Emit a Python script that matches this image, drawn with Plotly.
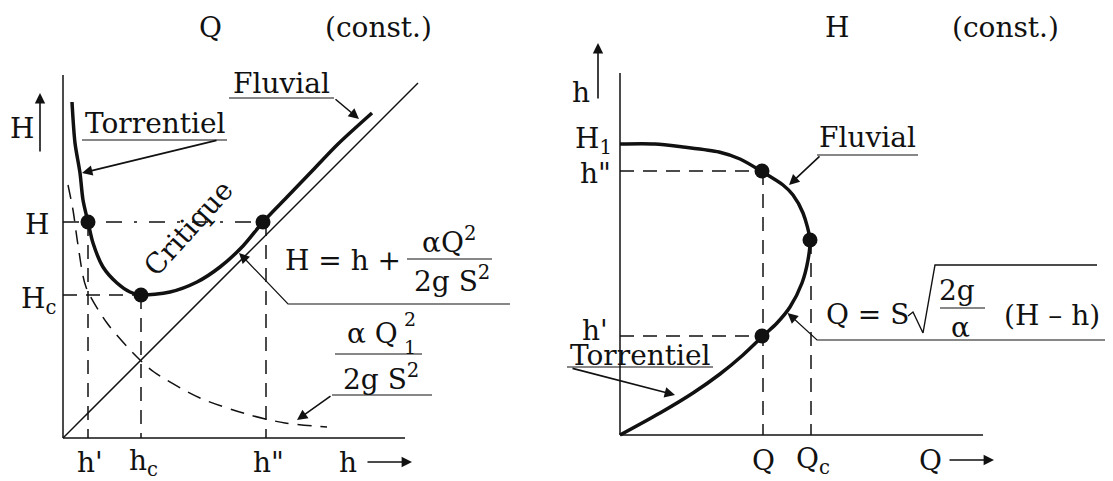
import plotly.graph_objects as go

# left panel, Q constant: head H against depth h
h_curve = [0.09, 0.12, 0.17, 0.20, 0.25, 0.30, 0.40, 0.54, 0.67, 0.78, 1.07, 1.34, 1.57, 1.80, 2.00, 2.25, 2.50, 2.75, 3.09]
H_curve = [3.36, 2.95, 2.65, 2.38, 2.16, 1.95, 1.71, 1.55, 1.46, 1.43, 1.46, 1.56, 1.71, 1.92, 2.16, 2.42, 2.68, 2.94, 3.25]
# velocity head alone (dashed)
h_kin = [0.05, 0.10, 0.15, 0.23, 0.44, 0.74, 0.91, 1.37, 1.87, 2.22, 2.64]
H_kin = [2.53, 2.28, 1.93, 1.51, 1.15, 0.81, 0.66, 0.40, 0.23, 0.15, 0.11]
diag = [0, 3.55]
h_torr, h_crit, h_fluv = 0.25, 0.78, 2.00
H_level, H_crit = 2.16, 1.43
h_axis_end, H_axis_end = 3.42, 3.63

# right panel, H constant: depth h against discharge Q
Q_curve = [0, 0.35, 0.63, 0.99, 1.20, 1.41, 1.63, 1.73, 1.83, 1.90, 1.88, 1.82, 1.70, 1.57, 1.43, 1.23, 1.00, 0.73, 0.40, 0]
h_curve2 = [2.91, 2.91, 2.88, 2.83, 2.76, 2.64, 2.50, 2.40, 2.22, 1.95, 1.75, 1.52, 1.28, 1.12, 0.99, 0.80, 0.61, 0.42, 0.22, 0]
Q_op, Q_crit = 1.42, 1.90
h2_fluv, h2_crit, h2_torr = 2.64, 1.95, 0.99
Q_axis_end, h2_axis_end = 3.63, 3.62

INK = "#111111"
FONT = "DejaVu Serif"
FS = 28
DASH = "14px,9px"

fig = go.Figure()


def line(xs, ys, panel, width=1.5, dash=None, shape="linear"):
    xa, ya = ("x", "y") if panel == 1 else ("x2", "y2")
    fig.add_trace(go.Scatter(x=xs, y=ys, mode="lines", xaxis=xa, yaxis=ya,
                             line=dict(color=INK, width=width, dash=dash, shape=shape, smoothing=0.8),
                             hoverinfo="skip"))


def dots(xs, ys, panel):
    xa, ya = ("x", "y") if panel == 1 else ("x2", "y2")
    fig.add_trace(go.Scatter(x=xs, y=ys, mode="markers", xaxis=xa, yaxis=ya,
                             marker=dict(color=INK, size=15), hoverinfo="skip"))


def text(x, y, s, panel, size=FS, angle=0):
    xa, ya = ("x", "y") if panel == 1 else ("x2", "y2")
    fig.add_annotation(x=x, y=y, xref=xa, yref=ya, text=s, showarrow=False,
                       textangle=angle, font=dict(family=FONT, size=size, color=INK))


def arrow(x0, y0, x1, y1, panel):
    xa, ya = ("x", "y") if panel == 1 else ("x2", "y2")
    fig.add_annotation(x=x1, y=y1, ax=x0, ay=y0, xref=xa, yref=ya, axref=xa, ayref=ya,
                       text="", showarrow=True, arrowhead=2, arrowsize=1.3,
                       arrowwidth=1.6, arrowcolor=INK)


# ---- left panel ----
line([0, 0], [0, H_axis_end], 1)
line([0, h_axis_end], [0, 0], 1)
line(diag, diag, 1)
line(h_kin, H_kin, 1, dash=DASH, shape="spline")
line(h_curve, H_curve, 1, width=3.5, shape="spline")
line([0, h_fluv], [H_level, H_level], 1, dash="16px,12px,3px,12px")
line([0, h_crit], [H_crit, H_crit], 1, dash=DASH)
line([h_torr, h_torr], [H_level, 0], 1, dash=DASH)
line([h_crit, h_crit], [H_crit, 0], 1, dash=DASH)
line([h_fluv + 0.03, h_fluv + 0.03], [H_level, 0], 1, dash=DASH)
dots([h_torr, h_crit, h_fluv], [H_level, H_crit, H_level], 1)

text(1.47, 4.11, "Q", 1)
text(3.15, 4.11, "(const.)", 1)
text(-0.41, 3.10, "H", 1)
arrow(-0.23, 2.85, -0.23, 3.45, 1)
text(-0.26, 2.14, "H", 1)
text(-0.25, 1.38, "H<sub>c</sub>", 1)
text(0.27, -0.24, "h'", 1)
text(0.80, -0.24, "h<sub>c</sub>", 1)
text(2.05, -0.24, 'h"', 1)
text(2.85, -0.24, "h", 1)
arrow(3.03, -0.24, 3.49, -0.24, 1)

text(0.92, 3.15, "Torrentiel", 1)
line([0.19, 1.64], [2.98, 2.98], 1, width=1.2)
arrow(1.55, 2.98, 0.19, 2.65, 1)
text(2.18, 3.55, "Fluvial", 1)
line([1.66, 2.71], [3.40, 3.40], 1, width=1.2)
arrow(2.71, 3.40, 2.96, 3.19, 1)
text(1.25, 2.10, "Critique", 1, angle=-48)

# H = h + aQ^2/2gS^2 with its leader
line([4.47, 2.25, 1.82], [1.34, 1.34, 1.79], 1, width=1.2)
arrow(1.82, 1.79, 1.76, 1.85, 1)
text(2.80, 1.78, "H = h +", 1)
text(3.86, 1.98, "αQ<sup>2</sup>", 1)
line([3.44, 4.29], [1.79, 1.79], 1, width=1.2)
text(3.89, 1.59, "2g S<sup>2</sup>", 1)

# aQ1^2/2gS^2 with its leader
text(3.09, 1.05, "α Q", 1)
text(3.47, 1.19, "2", 1, size=19)
text(3.47, 0.91, "1", 1, size=19)
line([2.72, 3.59], [0.84, 0.84], 1, width=1.2)
text(3.18, 0.61, "2g S<sup>2</sup>", 1)
line([2.69, 3.69], [0.43, 0.43], 1, width=1.2)
arrow(2.69, 0.43, 2.34, 0.18, 1)

# ---- right panel ----
line([0, 0], [0, h2_axis_end], 2)
line([0, Q_axis_end], [0, 0], 2)
line([0, Q_op], [h2_fluv, h2_fluv], 2, dash=DASH)
line([0, Q_op], [h2_torr, h2_torr], 2, dash=DASH)
line([Q_op + 0.01, Q_op + 0.01], [h2_fluv, 0], 2, dash=DASH)
line([Q_crit + 0.01, Q_crit + 0.01], [h2_crit, 0], 2, dash=DASH)
line(Q_curve, h_curve2, 2, width=3.5, shape="spline")
dots([Q_op, Q_crit, Q_op], [h2_fluv, h2_crit, h2_torr], 2)

text(2.17, 4.08, "H", 2)
text(3.85, 4.08, "(const.)", 2)
text(-0.39, 3.43, "h", 2)
arrow(-0.22, 3.35, -0.22, 3.92, 2)
text(-0.27, 2.95, "H<sub>1</sub>", 2)
text(-0.25, 2.62, 'h"', 2)
text(-0.25, 1.05, "h'", 2)
text(1.43, -0.25, "Q", 2)
text(1.93, -0.25, "Q<sub>c</sub>", 2)
text(3.10, -0.25, "Q", 2)
arrow(3.28, -0.25, 3.74, -0.25, 2)

text(2.47, 2.98, "Fluvial", 2)
line([1.97, 2.98], [2.80, 2.80], 2, width=1.2)
arrow(2.01, 2.80, 1.69, 2.50, 2)
text(0.20, 0.80, "Torrentiel", 2)
line([-0.53, 0.93], [0.68, 0.68], 2, width=1.2)
arrow(-0.49, 0.67, 0.55, 0.40, 2)

# Q = S sqrt(2g/a (H - h)) with its leader
text(2.47, 1.21, "Q = S", 2)
line([2.88, 2.93, 3.03, 3.15, 4.77], [1.19, 1.23, 1.02, 1.70, 1.70], 2, width=1.4)
text(3.37, 1.45, "2g", 2)
line([3.20, 3.65], [1.27, 1.27], 2, width=1.2)
text(3.40, 1.08, "α", 2)
text(4.32, 1.20, "(H – h)", 2)
line([4.90, 1.97, 1.72], [0.95, 0.95, 1.18], 2, width=1.2)
arrow(1.72, 1.18, 1.675, 1.22, 2)

# the page body has an 8px margin, so the figure is 8px smaller and the ranges start 8px in
fig.update_layout(
    width=1105, height=473,
    margin=dict(l=0, r=0, t=0, b=0),
    paper_bgcolor="white", plot_bgcolor="white",
    showlegend=False,
    xaxis=dict(domain=[0, 0.5], range=[-0.55, 4.975], visible=False),
    yaxis=dict(domain=[0, 1], range=[-0.43, 4.30], visible=False),
    xaxis2=dict(domain=[0.5, 1], range=[-0.595, 4.93], visible=False),
    yaxis2=dict(domain=[0, 1], range=[-0.46, 4.27], visible=False, anchor="x2"),
)

fig.write_html("out.html")
